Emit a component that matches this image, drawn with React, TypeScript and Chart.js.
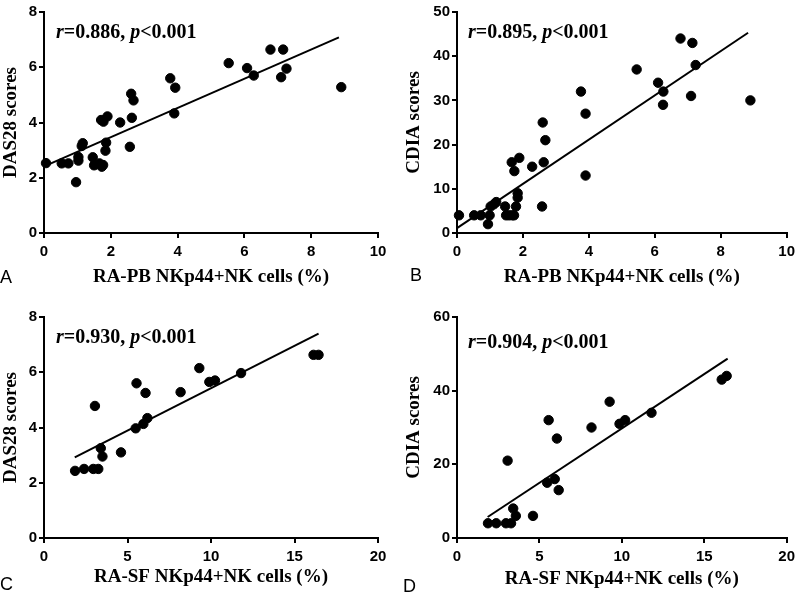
import React, { useEffect, useRef } from "react";
import { Chart, registerables } from "chart.js";
Chart.register(...registerables);

// Panel A: RA-PB NKp44+NK cells (%) vs DAS28 scores
const pbXA = [0.06, 0.53, 0.73, 0.96, 1.03, 1.03, 1.13, 1.16, 1.46, 1.5, 1.66, 1.73, 1.77, 1.71, 1.78, 1.9, 1.86, 1.84, 2.28, 2.57, 2.61, 2.68, 2.63, 3.78, 3.93, 3.9, 5.53, 6.08, 6.28, 6.78, 7.16, 7.1, 7.26, 8.9];
const das28A = [2.53, 2.52, 2.52, 1.84, 2.62, 2.75, 3.15, 3.25, 2.74, 2.45, 2.52, 2.4, 2.46, 4.09, 4.03, 4.22, 3.27, 2.98, 4.0, 3.12, 5.04, 4.8, 4.17, 5.6, 5.26, 4.33, 6.15, 5.97, 5.7, 6.64, 6.64, 5.64, 5.95, 5.28];
const fitXA = [0.02, 8.83];
const fitYA = [2.42, 7.08];

// Panel B: RA-PB NKp44+NK cells (%) vs CDIA scores
const pbXB = [0.06, 0.52, 0.72, 0.94, 0.99, 1.02, 1.12, 1.19, 1.46, 1.49, 1.58, 1.68, 1.73, 1.66, 1.74, 1.89, 1.84, 1.84, 1.79, 2.28, 2.58, 2.6, 2.63, 2.68, 3.76, 3.9, 3.9, 5.45, 6.1, 6.26, 6.25, 6.78, 7.14, 7.1, 7.24, 8.9];
const cdiaB = [4, 4, 4, 2, 4, 6, 6.5, 7, 6, 4, 4, 4, 4, 16, 14, 17, 8, 9, 6, 15, 6, 25, 16, 21, 32, 27, 13, 37, 34, 32, 29, 44, 43, 31, 38, 30];
const fitXB = [0.0, 8.83];
const fitYB = [1.1, 45.3];

// Panel C: RA-SF NKp44+NK cells (%) vs DAS28 scores
const sfXC = [1.86, 2.4, 2.95, 3.25, 3.05, 3.4, 3.5, 4.61, 5.49, 5.54, 5.95, 6.19, 6.08, 8.18, 9.3, 9.9, 10.24, 11.8, 16.14, 16.44];
const das28C = [2.43, 2.5, 2.5, 2.5, 4.78, 3.25, 2.95, 3.1, 3.97, 5.6, 4.13, 4.34, 5.25, 5.28, 6.15, 5.65, 5.7, 5.97, 6.63, 6.63];
const fitXC = [1.84, 16.44];
const fitYC = [2.92, 7.4];

// Panel D: RA-SF NKp44+NK cells (%) vs CDIA scores
const sfXD = [1.88, 2.38, 2.97, 3.28, 3.07, 3.41, 3.57, 4.61, 5.47, 5.56, 5.93, 6.06, 6.17, 8.16, 9.26, 9.86, 10.2, 11.8, 16.06, 16.36];
const cdiaD = [4, 4, 4, 4, 21, 8, 6, 6, 15, 32, 16, 27, 13, 30, 37, 31, 32, 34, 43, 44];
const fitXD = [1.86, 16.42];
const fitYD = [5.7, 48.7];

// Axis ranges / ticks
const xRangePB = [0, 10];
const xStepPB = 2;
const xRangeSF = [0, 20];
const xStepSF = 5;
const yRangeDAS = [0, 8];
const yStepDAS = 2;
const yRangeCDIAB = [0, 50];
const yStepCDIAB = 10;
const yRangeCDIAD = [0, 60];
const yStepCDIAD = 20;

// Labels
const xTitlePB = "RA-PB NKp44+NK cells (%)";
const xTitleSF = "RA-SF NKp44+NK cells (%)";
const yTitleDAS = "DAS28 scores";
const yTitleCDIA = "CDIA scores";
const statR = ["0.886", "0.895", "0.930", "0.904"];
const statP = "0.001";
const panelLetters = ["A", "B", "C", "D"];

const SERIF = "'Liberation Serif', 'Times New Roman', serif";
const SANS = "'Liberation Sans', Arial, sans-serif";

const textPlugin = {
  id: "panelText",
  afterDraw(chart: any, _args: any, opts: any) {
    const ctx = chart.ctx;
    ctx.save();
    ctx.fillStyle = "#000";
    // panel letter
    ctx.font = `18px ${SANS}`;
    ctx.textBaseline = "alphabetic";
    ctx.textAlign = "left";
    ctx.fillText(opts.letter, opts.letterX, opts.letterY);
    // stat annotation
    const parts = [
      { t: "r", it: true },
      { t: "=" + opts.r + ", ", it: false },
      { t: "p", it: true },
      { t: "<" + opts.p, it: false },
    ];
    ctx.textBaseline = "middle";
    let x = opts.statX;
    for (const part of parts) {
      ctx.font = `${part.it ? "italic " : ""}bold 20px ${SERIF}`;
      ctx.fillText(part.t, x, opts.statY);
      x += ctx.measureText(part.t).width;
    }
    ctx.restore();
  },
};

type PanelProps = {
  xs: number[];
  ys: number[];
  fx: number[];
  fy: number[];
  xRange: number[];
  xStep: number;
  yRange: number[];
  yStep: number;
  xTitle: string;
  yTitle: string;
  r: string;
  letter: string;
  left: number;
  top: number;
  w: number;
  h: number;
  yW: number;
  xH: number;
  padTop: number;
  padRight: number;
  xTitlePad: number;
  yTitlePad: number;
  letterX: number;
  letterY: number;
  statX: number;
  statY: number;
};

function Panel(p: PanelProps) {
  const ref = useRef<HTMLCanvasElement>(null);
  useEffect(() => {
    if (!ref.current) return;
    const tickFont = { family: SANS, weight: "bold" as const, size: 15 };
    const titleFont = { family: SERIF, weight: "bold" as const, size: 19 };
    const chart = new Chart(ref.current, {
      type: "scatter",
      data: {
        datasets: [
          {
            data: p.xs.map((x, i) => ({ x, y: p.ys[i] })),
            backgroundColor: "#000",
            borderColor: "#000",
            pointRadius: 4.7,
            pointHoverRadius: 4.7,
            clip: 10,
          } as any,
          {
            data: p.fx.map((x, i) => ({ x, y: p.fy[i] })),
            showLine: true,
            borderColor: "#000",
            borderWidth: 2,
            pointRadius: 0,
            pointHoverRadius: 0,
            fill: false,
            clip: 10,
          } as any,
        ],
      },
      options: {
        responsive: false,
        animation: false,
        devicePixelRatio: 1,
        layout: { padding: { left: 0, top: p.padTop, right: p.padRight, bottom: 0 } },
        plugins: {
          legend: { display: false },
          tooltip: { enabled: false },
          panelText: {
            letter: p.letter,
            letterX: p.letterX,
            letterY: p.letterY,
            r: p.r,
            p: statP,
            statX: p.statX,
            statY: p.statY,
          },
        } as any,
        scales: {
          x: {
            type: "linear",
            min: p.xRange[0],
            max: p.xRange[1],
            afterFit: (s: any) => {
              s.height = p.xH;
            },
            ticks: { stepSize: p.xStep, color: "#000", font: tickFont, padding: 5, maxRotation: 0 },
            grid: { drawOnChartArea: false, drawTicks: true, tickLength: 5, color: "#000", lineWidth: 2 },
            border: { display: true, color: "#000", width: 2 },
            title: {
              display: true,
              text: p.xTitle,
              color: "#000",
              font: titleFont,
              padding: { top: 0, bottom: p.xTitlePad },
            },
          },
          y: {
            type: "linear",
            min: p.yRange[0],
            max: p.yRange[1],
            afterFit: (s: any) => {
              s.width = p.yW;
            },
            ticks: { stepSize: p.yStep, color: "#000", font: tickFont, padding: 2 },
            grid: { drawOnChartArea: false, drawTicks: true, tickLength: 5, color: "#000", lineWidth: 2 },
            border: { display: true, color: "#000", width: 2 },
            title: {
              display: true,
              text: p.yTitle,
              color: "#000",
              font: titleFont,
              padding: { top: p.yTitlePad, bottom: 0 },
            },
          },
        },
      },
      plugins: [textPlugin],
    });
    return () => chart.destroy();
  }, []);
  return (
    <canvas
      ref={ref}
      width={p.w}
      height={p.h}
      style={{ position: "absolute", left: p.left, top: p.top, width: p.w, height: p.h }}
    />
  );
}

export default function App() {
  return (
    <div style={{ position: "absolute", left: 0, top: 0, width: 800, height: 593, background: "#fff" }}>
      <Panel
        xs={pbXA} ys={das28A} fx={fitXA} fy={fitYA}
        xRange={xRangePB} xStep={xStepPB} yRange={yRangeDAS} yStep={yStepDAS}
        xTitle={xTitlePB} yTitle={yTitleDAS} r={statR[0]} letter={panelLetters[0]}
        left={0} top={0} w={400} h={296} yW={44} xH={63} padTop={12} padRight={22}
        xTitlePad={8} yTitlePad={0} letterX={0} letterY={283} statX={56} statY={33}
      />
      <Panel
        xs={pbXB} ys={cdiaB} fx={fitXB} fy={fitYB}
        xRange={xRangePB} xStep={xStepPB} yRange={yRangeCDIAB} yStep={yStepCDIAB}
        xTitle={xTitlePB} yTitle={yTitleCDIA} r={statR[1]} letter={panelLetters[1]}
        left={400} top={0} w={400} h={296} yW={57} xH={63} padTop={12} padRight={9}
        xTitlePad={8} yTitlePad={3} letterX={10} letterY={281} statX={68} statY={33}
      />
      <Panel
        xs={sfXC} ys={das28C} fx={fitXC} fy={fitYC}
        xRange={xRangeSF} xStep={xStepSF} yRange={yRangeDAS} yStep={yStepDAS}
        xTitle={xTitleSF} yTitle={yTitleDAS} r={statR[2]} letter={panelLetters[2]}
        left={0} top={296} w={400} h={297} yW={44} xH={55} padTop={21} padRight={22}
        xTitlePad={5} yTitlePad={0} letterX={0} letterY={294} statX={56} statY={42}
      />
      <Panel
        xs={sfXD} ys={cdiaD} fx={fitXD} fy={fitYD}
        xRange={xRangeSF} xStep={xStepSF} yRange={yRangeCDIAD} yStep={yStepCDIAD}
        xTitle={xTitleSF} yTitle={yTitleCDIA} r={statR[3]} letter={panelLetters[3]}
        left={400} top={296} w={400} h={297} yW={57} xH={55} padTop={21} padRight={9}
        xTitlePad={3} yTitlePad={3} letterX={3} letterY={296} statX={68} statY={47}
      />
    </div>
  );
}
